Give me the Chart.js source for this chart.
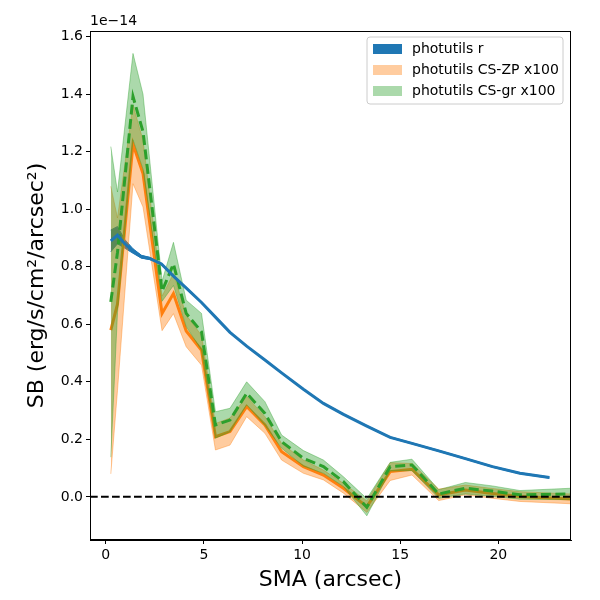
<!DOCTYPE html>
<html>
<head>
<meta charset="utf-8">
<script src="https://cdn.jsdelivr.net/npm/chart.js@4.4.1/dist/chart.umd.min.js"></script>
<style>
  html, body { margin: 0; padding: 0; background: #fff; }
</style>
</head>
<body>
<canvas id="sbChart" width="600" height="600"></canvas>
<script>
// surface brightness profiles, y in units of 1e-14
var rX = [0.26, 0.6, 0.97, 1.39, 1.82, 2.24, 2.84, 3.49, 4.12, 4.88, 5.59, 6.33, 7.18, 8.11, 8.96, 10.07, 11.09, 12.11, 13.3, 14.49, 15.6, 16.96, 18.32, 19.7, 21.1, 22.6];
var rY = [0.89, 0.91, 0.88, 0.855, 0.835, 0.829, 0.81, 0.765, 0.725, 0.676, 0.625, 0.572, 0.524, 0.476, 0.431, 0.374, 0.325, 0.287, 0.246, 0.207, 0.186, 0.16, 0.133, 0.105, 0.082, 0.067];
var rErr = [0.038, 0.03, 0.015, 0.008, 0.005, 0.004, 0.003, 0.003, 0.003, 0.002, 0.002, 0.002, 0.002, 0.002, 0.002, 0.002, 0.002, 0.002, 0.002, 0.002, 0.002, 0.002, 0.002, 0.002, 0.002, 0.002];

var csX = [0.26, 0.6, 1.39, 1.9, 2.87, 3.45, 4.1, 4.88, 5.59, 6.33, 7.18, 8.11, 8.96, 10.07, 11.09, 12.11, 13.3, 14.49, 15.6, 16.96, 18.32, 19.7, 21.1, 23.7];
var zpY = [0.58, 0.67, 1.226, 1.124, 0.638, 0.707, 0.577, 0.51, 0.209, 0.227, 0.314, 0.25, 0.157, 0.105, 0.076, 0.03, -0.034, 0.088, 0.096, 0.007, 0.024, 0.012, 0.001, -0.007];
var zpErr = [0.5, 0.3, 0.137, 0.116, 0.06, 0.07, 0.055, 0.052, 0.046, 0.047, 0.035, 0.029, 0.029, 0.023, 0.017, 0.017, 0.02, 0.031, 0.02, 0.02, 0.017, 0.017, 0.017, 0.017];
var grY = [0.678, 0.85, 1.392, 1.27, 0.715, 0.81, 0.638, 0.574, 0.25, 0.267, 0.36, 0.29, 0.192, 0.134, 0.105, 0.053, -0.036, 0.105, 0.111, 0.01, 0.03, 0.02, 0.007, 0.01];
var grErr = [0.54, 0.21, 0.15, 0.13, 0.035, 0.075, 0.046, 0.064, 0.046, 0.041, 0.04, 0.041, 0.023, 0.027, 0.023, 0.017, 0.03, 0.015, 0.02, 0.015, 0.02, 0.018, 0.015, 0.02];

var xLim = [-0.8, 23.7];
var yLim = [-0.15, 1.62];
var xTicks = [0, 5, 10, 15, 20];
var yTicks = [0.0, 0.2, 0.4, 0.6, 0.8, 1.0, 1.2, 1.4, 1.6];
var zeroY = [0, 0];

var legendNames = ['photutils r', 'photutils CS-ZP x100', 'photutils CS-gr x100'];
var legendColors = ['#1f77b4', 'rgba(255,127,14,0.4)', 'rgba(44,160,44,0.4)'];

var FONT = '"DejaVu Sans", Verdana, sans-serif';

function pts(xs, ys, sign, err) {
    return xs.map(function (x, i) {
        var y = ys[i];
        if (err) y = y + sign * err[i];
        return { x: x, y: y };
    });
}

function band(xs, ys, err, color, order) {
    return [{
        data: pts(xs, ys, -1, err),
        borderColor: color, borderWidth: 1, pointRadius: 0, fill: false, order: order
    }, {
        data: pts(xs, ys, 1, err),
        borderColor: color, borderWidth: 1, pointRadius: 0,
        fill: '-1', backgroundColor: color, order: order
    }];
}

var datasets = []
    .concat(band(rX, rY, rErr, '#1f77b4', 10))
    .concat(band(csX, zpY, zpErr, 'rgba(255,127,14,0.4)', 8))
    .concat([{
        data: pts(csX, zpY), borderColor: '#ff7f0e', borderWidth: 3, pointRadius: 0, fill: false, order: 6
    }])
    .concat(band(csX, grY, grErr, 'rgba(44,160,44,0.4)', 5))
    .concat([{
        data: pts(csX, grY), borderColor: '#2ca02c', borderWidth: 3, borderDash: [10, 4.5],
        pointRadius: 0, fill: false, order: 2
    }, {
        data: pts(rX, rY), borderColor: '#1f77b4', borderWidth: 3, pointRadius: 0, fill: false, order: 1
    }, {
        data: pts(xLim, zeroY), borderColor: '#000', borderWidth: 2, borderDash: [7.7, 3.3],
        pointRadius: 0, fill: false, order: 0
    }]);

// frame, offset text and in-axes legend
var extras = {
    id: 'extras',
    afterDraw: function (chart) {
        var ctx = chart.ctx, a = chart.chartArea;
        ctx.save();
        ctx.strokeStyle = '#000';
        ctx.lineWidth = 1;
        ctx.strokeRect(a.left + 0.5, a.top + 0.5, a.right - a.left - 1, a.bottom - a.top - 1);

        ctx.fillStyle = '#000';
        ctx.font = '14px ' + FONT;
        ctx.textAlign = 'left';
        ctx.textBaseline = 'bottom';
        ctx.fillText('1e\u221214', a.left, a.top - 3);

        // legend box
        var bx = 367, by = 37, bw = 196, bh = 67, r = 3;
        ctx.beginPath();
        ctx.moveTo(bx + r, by);
        ctx.arcTo(bx + bw, by, bx + bw, by + bh, r);
        ctx.arcTo(bx + bw, by + bh, bx, by + bh, r);
        ctx.arcTo(bx, by + bh, bx, by, r);
        ctx.arcTo(bx, by, bx + bw, by, r);
        ctx.closePath();
        ctx.fillStyle = 'rgba(255,255,255,0.8)';
        ctx.fill();
        ctx.strokeStyle = '#cccccc';
        ctx.stroke();

        ctx.font = '14px ' + FONT;
        ctx.textBaseline = 'middle';
        legendNames.forEach(function (name, i) {
            var cy = by + 12 + i * 21;
            ctx.fillStyle = legendColors[i];
            ctx.fillRect(bx + 6, cy - 5, 29, 10);
            ctx.fillStyle = '#000';
            ctx.fillText(name, bx + 45, cy);
        });
        ctx.restore();
    }
};

var canvas = document.getElementById('sbChart');
new Chart(canvas, {
    type: 'line',
    data: { datasets: datasets },
    plugins: [extras],
    options: {
        responsive: false,
        animation: false,
        devicePixelRatio: 1,
        layout: { padding: { top: 31, right: 29, left: 0, bottom: 0 } },
        plugins: { legend: { display: false }, tooltip: { enabled: false } },
        scales: {
            x: {
                type: 'linear',
                min: xLim[0], max: xLim[1],
                afterFit: function (s) { s.height = 60; },
                afterBuildTicks: function (s) { s.ticks = xTicks.map(function (v) { return { value: v }; }); },
                ticks: {
                    color: '#000', padding: 3, font: { family: FONT, size: 14 },
                    maxRotation: 0, callback: function (v) { return String(v); }
                },
                grid: { drawOnChartArea: false, drawTicks: true, tickLength: 4, color: '#000' },
                border: { display: true, color: '#000' },
                title: {
                    display: true, text: 'SMA (arcsec)', color: '#000',
                    font: { family: FONT, size: 22 }, padding: { top: 0, bottom: 7 }
                }
            },
            y: {
                type: 'linear',
                min: yLim[0], max: yLim[1],
                afterFit: function (s) { s.width = 90; },
                afterBuildTicks: function (s) { s.ticks = yTicks.map(function (v) { return { value: v }; }); },
                ticks: {
                    color: '#000', padding: 3, font: { family: FONT, size: 14 },
                    callback: function (v) { return Number(v).toFixed(1); }
                },
                grid: { drawOnChartArea: false, drawTicks: true, tickLength: 4, color: '#000' },
                border: { display: true, color: '#000' },
                title: {
                    display: true, text: 'SB (erg/s/cm\u00b2/arcsec\u00b2)', color: '#000',
                    font: { family: FONT, size: 22 }, padding: { top: 24, bottom: 0 }
                }
            }
        }
    }
});
</script>
</body>
</html>
